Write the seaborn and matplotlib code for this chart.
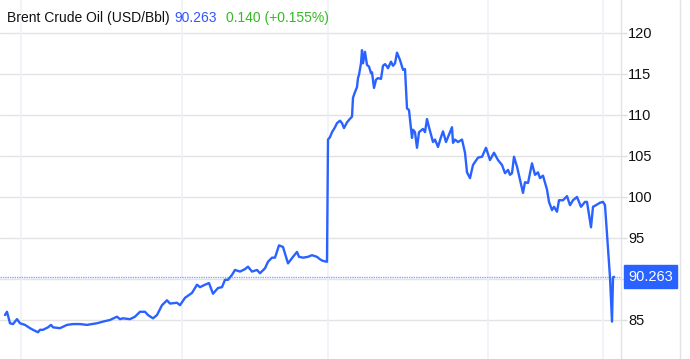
import matplotlib
matplotlib.use("Agg")
import matplotlib.pyplot as plt
import seaborn as sns
import pandas as pd
import numpy as np

# time index (session slots) and Brent price values
t = [5, 7, 10, 13, 15, 17, 20, 25, 30, 33, 38, 40, 43, 48, 51, 53, 60, 67, 73, 80,
     87, 97, 103, 110, 117, 120, 123, 130, 135, 140, 145, 148, 153, 157, 162, 167, 170,
     177, 180, 185, 192, 197, 200, 205, 209, 213, 218, 222, 225, 228, 232, 235, 240,
     245, 248, 252, 257, 260, 265, 268, 272, 275, 279, 283, 288, 293, 297, 299, 303,
     308, 312, 317, 320, 323, 327, 328, 330, 332, 334, 335, 337, 340, 342, 344, 347,
     349, 352, 353, 355, 357, 358, 359, 361, 362, 363, 365, 367, 369, 371, 372, 374,
     376, 378, 381, 383, 385, 387, 388, 391, 393, 395, 397, 400, 403, 405, 407, 409,
     410, 412, 413, 415, 417, 419, 423, 425, 427, 429, 433, 435, 438, 441, 443, 446,
     449, 452, 453, 455, 458, 462, 465, 467, 470, 473, 478, 482, 486, 490, 494, 498,
     502, 505, 508, 510, 512, 514, 517, 520, 523, 525, 528, 532, 535, 538, 540, 543,
     547, 549, 552, 554, 557, 559, 563, 567, 570, 573, 577, 581, 585, 587, 591, 593,
     596, 600, 603, 605, 610, 612, 613, 614]
price = [85.6, 86.0, 84.6, 84.5, 84.8, 85.1, 84.6, 84.4, 84.0, 83.8, 83.5, 83.8, 83.8,
         84.1, 84.4, 84.1, 84.0, 84.4, 84.5, 84.5, 84.4, 84.6, 84.8, 85.0, 85.4, 85.1,
         85.2, 85.1, 85.4, 86.0, 86.0, 85.6, 85.2, 85.6, 86.8, 87.4, 87.0, 87.1, 86.8,
         87.7, 88.3, 89.3, 89.0, 89.3, 89.5, 88.2, 88.9, 89.0, 89.9, 89.9, 90.5, 91.1,
         90.9, 91.2, 91.5, 90.9, 91.1, 90.7, 91.3, 92.1, 92.6, 92.6, 94.1, 93.9, 91.9,
         92.7, 93.3, 92.7, 92.6, 92.7, 92.9, 92.7, 92.4, 92.2, 92.1, 107.0, 107.3, 107.9,
         108.3, 108.5, 109.0, 109.3, 109.0, 108.4, 109.1, 109.4, 109.8, 112.1, 112.8,
         113.4, 114.5, 114.9, 116.3, 117.9, 116.3, 117.7, 116.1, 115.9, 115.1, 115.2,
         113.3, 114.3, 114.5, 114.4, 116.0, 116.2, 115.9, 115.7, 116.5, 116.0, 116.3,
         117.6, 116.7, 115.5, 115.6, 110.8, 110.6, 109.5, 107.2, 108.2, 107.9, 106.0,
         107.9, 108.3, 107.9, 109.5, 108.5, 106.7, 107.0, 106.1, 107.3, 108.0, 106.7,
         107.6, 108.5, 106.6, 107.0, 106.7, 107.0, 105.4, 103.0, 102.3, 103.9, 104.8,
         104.9, 106.0, 104.5, 105.4, 104.5, 103.9, 102.9, 103.3, 102.7, 102.9, 104.9,
         103.7, 102.1, 100.5, 101.8, 101.7, 104.1, 102.7, 103.0, 102.3, 102.6, 100.9,
         99.4, 98.4, 98.8, 98.2, 99.6, 99.6, 100.1, 99.0, 99.6, 100.0, 98.8, 99.4, 99.4,
         96.3, 98.8, 99.0, 99.3, 99.4, 99.0, 90.2, 84.8, 90.2, 90.263]

y_ticks = [85, 90, 95, 100, 105, 110, 115, 120]
y_labels = ["85", "", "95", "100", "105", "110", "115", "120"]
x_grid = [21, 182, 328, 488, 603]
last_price = 90.263
title_name = "Brent Crude Oil (USD/Bbl)"
title_price = "90.263"
title_change = "0.140 (+0.155%)"

df = pd.DataFrame({"t": t, "price": price})

sns.set_style("white")
plt.rcParams["font.family"] = ["Liberation Sans", "DejaVu Sans"]

W, H = 690, 359
fig = plt.figure(figsize=(W / 100, H / 100), dpi=100)
ax = fig.add_axes([0, 0, 621 / W, 1])

line_color = "#2962ff"
sns.lineplot(data=df, x="t", y="price", ax=ax, color=line_color, linewidth=1.7)

ax.set_xlim(0, 621)
ax.set_ylim(80.24, 124.02)

for yv in y_ticks:
    ax.axhline(yv, color="#e3e3e3", linewidth=1.0, zorder=0)
for xv in x_grid:
    ax.axvline(xv, color="#eef2f7", linewidth=1.2, zorder=0)

ax.axhline(last_price, color="#8aa4ff", linewidth=1.0, linestyle=(0, (1, 0.7)), zorder=1)

ax.yaxis.tick_right()
ax.set_yticks(y_ticks)
ax.set_yticklabels(y_labels)
ax.tick_params(axis="y", length=4, width=1, color="#dddddd", pad=1,
               labelsize=10.5, labelcolor="#111111")
ax.set_xticks([])
ax.set_xlabel("")
ax.set_ylabel("")
for s in ["top", "bottom", "left"]:
    ax.spines[s].set_visible(False)
ax.spines["right"].set_color("#e3e3e3")
ax.spines["right"].set_linewidth(1.0)

# right border line
fig.add_artist(plt.Line2D([679.5 / W, 679.5 / W], [0, 1], color="#e3e3e3",
                          linewidth=1.0, transform=fig.transFigure))

# last price label box
ax.annotate(title_price, xy=(1, last_price), xycoords=("axes fraction", "data"),
            xytext=(5, 0), textcoords="offset points", ha="left", va="center",
            color="white", fontsize=10.5,
            bbox=dict(boxstyle="square,pad=0.3", fc=line_color, ec=line_color))

# title
y_t = 1 - 18 / H
t1 = fig.text(7 / W, y_t, title_name, color="#111111", fontsize=10, va="center")
fig.canvas.draw()
r = fig.canvas.get_renderer()
bb = t1.get_window_extent(r)
t2 = fig.text((bb.x1 + 5) / W, y_t, title_price, color="#3355ff", fontsize=10, va="center")
bb2 = t2.get_window_extent(r)
fig.text((bb2.x1 + 9) / W, y_t, title_change, color="#33bb22", fontsize=10, va="center")

fig.savefig("out.png", dpi=100)
